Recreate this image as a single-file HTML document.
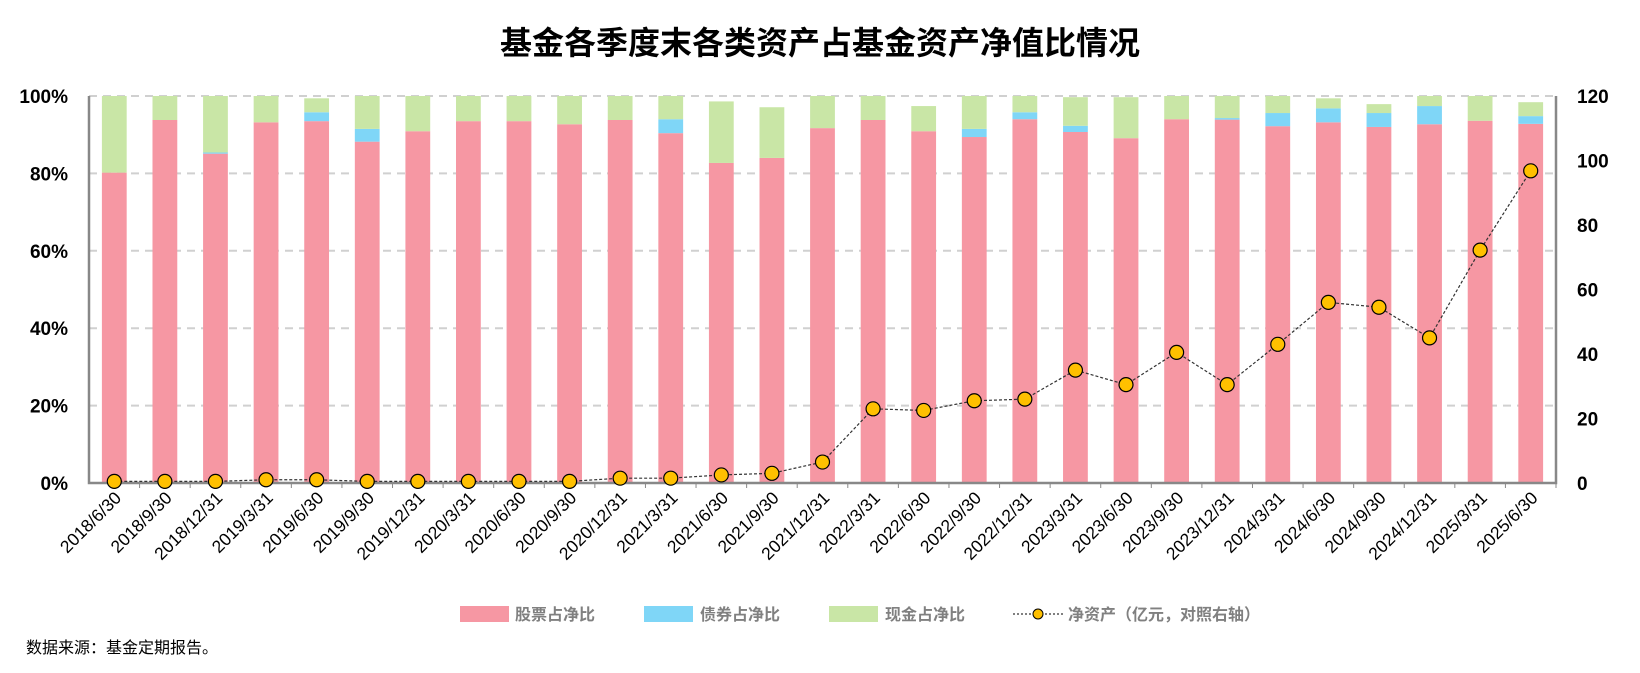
<!DOCTYPE html>
<html><head><meta charset="utf-8"><style>
body{margin:0;background:#fff;width:1640px;height:668px;overflow:hidden;font-family:"Liberation Sans","Noto Sans CJK SC",sans-serif}
</style></head><body>
<svg id="chart" width="1640" height="668" xmlns="http://www.w3.org/2000/svg">
<text x="820" y="54" text-anchor="middle" font-size="32" font-weight="bold" font-family="Liberation Sans,Noto Sans CJK SC,sans-serif">基金各季度末各类资产占基金资产净值比情况</text>
<g id="grid"></g><g id="bars"></g><g id="axes"></g><g id="line"></g><g id="labels"></g>
<g font-size="16" font-weight="bold" fill="#808080" font-family="Liberation Sans,Noto Sans CJK SC,sans-serif">
<g><rect x="460" y="606" width="49" height="16" fill="#F697A3"/><text x="515" y="620">股票占净比</text></g>
<g><rect x="644" y="606" width="49" height="16" fill="#7FD6F7"/><text x="700" y="620">债券占净比</text></g>
<g><rect x="829" y="606" width="49" height="16" fill="#C9E6A6"/><text x="885" y="620">现金占净比</text></g>
<g><line x1="1013" y1="614" x2="1064" y2="614" stroke="#000" stroke-dasharray="2,2"/><circle cx="1038" cy="614" r="5" fill="#FFC000" stroke="#000"/><text x="1068" y="620">净资产（亿元，对照右轴）</text></g>
</g>
<text x="26" y="653" font-size="16" fill="#000">数据来源：基金定期报告。</text>
</svg>
<script>
const categories=["2018/6/30","2018/9/30","2018/12/31","2019/3/31","2019/6/30","2019/9/30","2019/12/31","2020/3/31","2020/6/30","2020/9/30","2020/12/31","2021/3/31","2021/6/30","2021/9/30","2021/12/31","2022/3/31","2022/6/30","2022/9/30","2022/12/31","2023/3/31","2023/6/30","2023/9/30","2023/12/31","2024/3/31","2024/6/30","2024/9/30","2024/12/31","2025/3/31","2025/6/30"];
const stockPct=[80.2,93.8,85.1,93.2,93.5,88.2,90.9,93.5,93.5,92.7,93.8,90.4,82.7,84.0,91.7,93.8,90.9,89.4,94.0,90.7,89.1,94.0,93.9,92.2,93.2,92.0,92.7,93.6,92.8];
const bondPct=[0,0,0.3,0,2.3,3.3,0,0,0,0,0,3.6,0,0,0,0,0,2.1,1.8,1.6,0,0,0.4,3.4,3.6,3.6,4.7,0,2.0];
const cashPct=[19.8,6.2,14.6,6.8,3.6,8.5,9.1,6.5,6.5,7.3,6.2,6.0,15.9,13.1,8.3,6.2,6.5,8.5,4.2,7.4,10.6,6.0,5.7,4.4,2.6,2.3,2.6,6.4,3.6];
const netAssets=[0.5,0.5,0.5,1,1,0.5,0.5,0.5,0.5,0.5,1.5,1.5,2.5,3,6.5,23,22.5,25.5,26,35,30.5,40.5,30.5,43,56,54.5,45,72.2,96.8];
const leftTicks=["0%","20%","40%","60%","80%","100%"];
const rightTicks=["0","20","40","60","80","100","120"];
const NS="http://www.w3.org/2000/svg";
const X0=89,X1=1556,Y0=483,Y1=96;
const cw=(X1-X0)/categories.length, bw=cw*0.49;
const xc=i=>X0+cw*(i+0.5);
const yL=v=>Y0-(Y0-Y1)*v/100;
const yR=v=>Y0-(Y0-Y1)*v/120;
function mk(tag,attrs,parent){const e=document.createElementNS(NS,tag);for(const k in attrs)e.setAttribute(k,attrs[k]);document.getElementById(parent).appendChild(e);return e;}
leftTicks.forEach((t,i)=>{const v=i*20,y=yL(v);
 if(i>0){const g=mk('line',{x1:X0,x2:X1,y1:y,y2:y,stroke:'#d0d0d0','stroke-width':2,'stroke-dasharray':'8,6'},'grid');
 
 }
 const tx=mk('text',{x:68,y:y+7,'text-anchor':'end','font-size':19,'font-weight':'bold'},'axes');tx.textContent=t;
 
 });
rightTicks.forEach((t,i)=>{const tx=mk('text',{x:1577,y:yR(i*20)+7,'font-size':19,'font-weight':'bold'},'axes');tx.textContent=t;
 
 });
categories.forEach((c,i)=>{const x=xc(i)-bw/2;
 const s=mk('rect',{x:x,width:bw,y:yL(stockPct[i]),height:yL(0)-yL(stockPct[i]),fill:'#F697A3'},'bars');
 
 
 const b0=stockPct[i],b1=b0+bondPct[i];
 const b=mk('rect',{x:x,width:bw,y:yL(b1),height:yL(b0)-yL(b1),fill:'#7FD6F7'},'bars');
 
 
 const c1=b1+cashPct[i];
 const k=mk('rect',{x:x,width:bw,y:yL(c1),height:yL(b1)-yL(c1),fill:'#C9E6A6'},'bars');
 
 
 const tk=mk('line',{x1:X0+cw*(i+1),x2:X0+cw*(i+1),y1:Y0,y2:Y0+5,stroke:'#888'},'axes');
 
 
 const lx=xc(i)+8,ly=Y0+16;
 const l=mk('text',{x:lx,y:ly,'text-anchor':'end','font-size':17.5,transform:`rotate(-45 ${lx} ${ly})`},'labels');l.textContent=c;
 
 });
const ax=mk('path',{d:`M${X0},${Y1} V${Y0} H${X1} V${Y1}`,fill:'none',stroke:'#888','stroke-width':2.5},'axes');


const pl=mk('polyline',{points:netAssets.map((v,i)=>xc(i)+','+yR(v)).join(' '),fill:'none',stroke:'#333','stroke-width':1.2,'stroke-dasharray':'3,2'},'line');


netAssets.forEach((v,i)=>{const p=mk('circle',{cx:xc(i),cy:yR(v),r:7,fill:'#FFC000',stroke:'#000','stroke-width':1.2},'line');
 
 });
</script>
</body></html>
